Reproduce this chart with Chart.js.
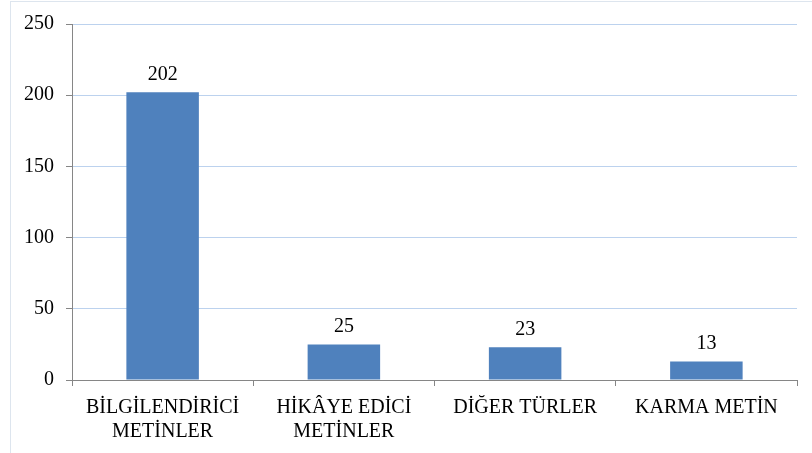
<!DOCTYPE html>
<html>
<head>
<meta charset="utf-8">
<script src="https://cdn.jsdelivr.net/npm/chart.js@4.4.0/dist/chart.umd.min.js"></script>
<style>
html,body{margin:0;padding:0;background:#fff;}
#wrap{position:relative;width:812px;height:453px;}
#frame{position:absolute;left:10px;top:1px;width:812px;height:460px;border:1px solid #dde5ee;box-sizing:border-box;}
canvas{position:absolute;left:0;top:0;}
</style>
</head>
<body>
<div id="wrap"><div id="frame"></div><canvas id="c" width="812" height="453"></canvas></div>
<script>
const categories = [["BİLGİLENDİRİCİ","METİNLER"],["HİKÂYE EDİCİ","METİNLER"],"DİĞER TÜRLER","KARMA METİN"];
const values = [202, 25, 23, 13];
const yTicks = [0, 50, 100, 150, 200, 250];

const valueLabels = {
  id: 'valueLabels',
  afterDatasetsDraw(chart) {
    const ctx = chart.ctx;
    const meta = chart.getDatasetMeta(0);
    ctx.save();
    ctx.font = '20px "Liberation Serif", "Times New Roman", serif';
    ctx.fillStyle = '#000';
    ctx.textAlign = 'center';
    ctx.textBaseline = 'alphabetic';
    meta.data.forEach((bar, i) => {
      ctx.fillText(String(values[i]), bar.x, bar.y - 12);
    });
    ctx.restore();
  }
};

new Chart(document.getElementById('c'), {
  type: 'bar',
  data: {
    labels: categories,
    datasets: [{
      data: values,
      backgroundColor: '#4F81BD',
      borderWidth: 0,
      barPercentage: 0.4,
      categoryPercentage: 1.0
    }]
  },
  options: {
    responsive: false,
    animation: false,
    devicePixelRatio: 1,
    layout: { padding: { left: 20, right: 15, top: 18, bottom: 0 } },
    plugins: { legend: { display: false }, tooltip: { enabled: false } },
    scales: {
      y: {
        min: 0, max: 250,
        afterBuildTicks(s) { s.ticks = yTicks.map(v => ({ value: v })); },
        border: { display: true, color: '#868686', width: 1 },
        grid: { color: '#bcd2ee', lineWidth: 1, tickColor: '#868686', tickLength: 6, drawTicks: true },
        ticks: { color: '#000', padding: 12, font: { family: '"Liberation Serif", "Times New Roman", serif', size: 20 } },
        afterFit(s) { s.width = 52; }
      },
      x: {
        border: { display: true, color: '#868686', width: 1 },
        grid: { display: true, drawOnChartArea: false, offset: true, tickColor: '#868686', tickLength: 6, color: '#868686' },
        ticks: { color: '#000', padding: 10, maxRotation: 0, autoSkip: false, font: { family: '"Liberation Serif", "Times New Roman", serif', size: 20, lineHeight: 1.2 } },
        afterFit(s) { s.height = 73; }
      }
    }
  },
  plugins: [valueLabels]
});
</script>
</body>
</html>
